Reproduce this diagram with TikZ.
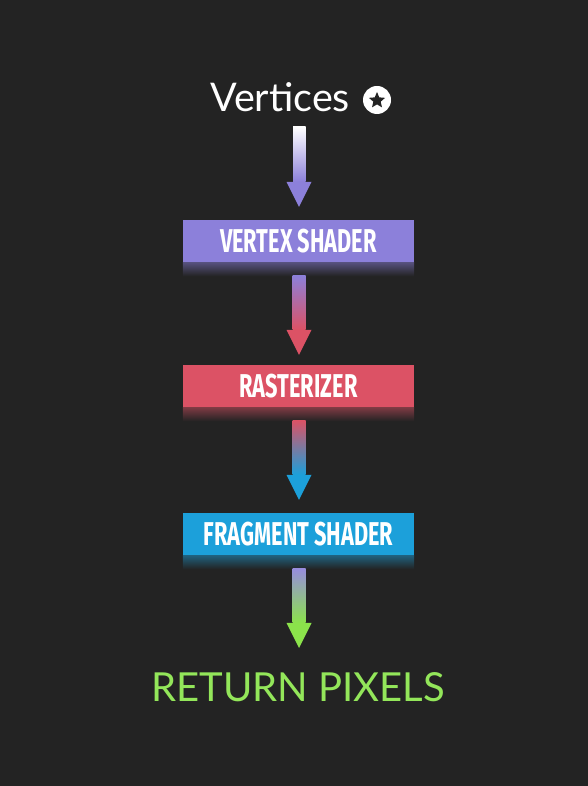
\documentclass[tikz,border=0pt]{standalone}
\usepackage{fontspec}
\setmainfont{Lato}
\newfontfamily\boxfont[FakeStretch=0.66]{Fira Sans}
\usetikzlibrary{calc,shapes.geometric}

\definecolor{bg}{HTML}{232323}
\definecolor{vpurple}{HTML}{8C80DA}
\definecolor{rred}{HTML}{DC5265}
\definecolor{fblue}{HTML}{1CA0DA}
\definecolor{pgreen}{HTML}{8BE34B}
\definecolor{ptext}{HTML}{93E65A}

% shaft (shaded) plus solid triangular head; #1 shaft top, #2 apex
\newcommand{\pipearrow}[4]{%
  \shade[top color=#3, bottom color=#4]
    ($(#1)+(-6.5,0)$) rectangle ($(#2)+(6.5,25)$);
  \fill[#4] ($(#2)+(-12.5,25)$) -- ($(#2)+(12.5,25)$) -- (#2) -- cycle;
}
% fading reflection under a stage box
\newcommand{\stageglow}[2]{%
  \shade[top color=#2!50!bg, bottom color=bg]
    (#1.south west) rectangle ($(#1.south east)+(0,-14)$);
}

\begin{document}
\begin{tikzpicture}[x=1pt,y=1pt,
  stagebox/.style={minimum width=231pt, minimum height=42pt, inner sep=0pt,
    text=white, font=\boxfont\bfseries\fontsize{33}{33}\selectfont},
  titletext/.style={inner sep=0pt, anchor=base}]
  \fill[bg] (0,0) rectangle (588,786);
  \useasboundingbox (0,0) rectangle (588,786);

  % header
  \node[titletext, anchor=base west, text=white, font=\fontsize{39.5}{39.5}\selectfont] (vert) at (210,674) {Vertices};
  \fill[white] (377,686) circle (14);
  \node[star, star points=5, star point ratio=2.2, fill=bg, minimum size=17pt, inner sep=0pt] (badge) at (377,685.5) {};

  % pipeline stages
  \node[stagebox, fill=vpurple] (vs) at (298.5,545) {VERTEX SHADER};
  \node[stagebox, fill=rred] (ras) at (298.5,400) {RASTERIZER};
  \node[stagebox, fill=fblue] (fs) at (298.5,252) {FRAGMENT SHADER};

  \stageglow{vs}{vpurple}
  \stageglow{ras}{rred}
  \stageglow{fs}{fblue}

  % result
  \node[titletext, text=ptext, font=\fontsize{40}{40}\selectfont] (ret) at (298,84) {RETURN PIXELS};

  % connectors
  \coordinate (a1t) at (299.5,659);
  \coordinate (a1h) at ($(vs.north)+(0.5,13)$);
  \coordinate (a2t) at ($(vs.south)+(0.5,-13)$);
  \coordinate (a2h) at ($(ras.north)+(0.5,10)$);
  \coordinate (a3t) at ($(ras.south)+(0.5,-13)$);
  \coordinate (a3h) at ($(fs.north)+(0.5,13)$);
  \coordinate (a4t) at ($(fs.south)+(0.5,-13)$);
  \coordinate (a4h) at (299,138);

  \pipearrow{a1t}{a1h}{white}{vpurple}
  \pipearrow{a2t}{a2h}{vpurple}{rred}
  \pipearrow{a3t}{a3h}{rred}{fblue}
  \pipearrow{a4t}{a4h}{vpurple!90!white}{pgreen}
\end{tikzpicture}
\end{document}
